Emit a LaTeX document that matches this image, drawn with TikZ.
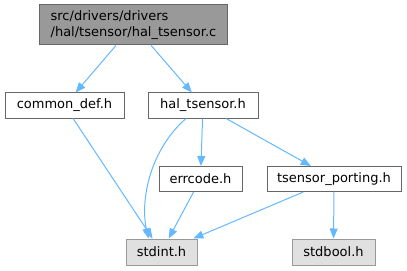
\documentclass[tikz,border=0pt]{standalone}
\usepackage{fontspec}
\setmainfont{DejaVu Sans}
\usepackage{tikz}
\usetikzlibrary{arrows.meta, positioning, calc}
\definecolor{dxedge}{HTML}{63B8FF}
\definecolor{dxborder}{HTML}{666666}
\definecolor{dxtop}{HTML}{999999}
\definecolor{dxsys}{HTML}{E0E0E0}

\begin{document}
\begin{tikzpicture}[x=0.75pt, y=-0.75pt,
  file/.style={rectangle, draw=dxborder, fill=white, line width=0.75pt, inner sep=0pt, minimum height=18.75pt, font=\fontsize{9.75}{11.5}\selectfont},
  topfile/.style={file, fill=dxtop, minimum height=30pt, align=left},
  sysfile/.style={file, draw=dxtop, fill=dxsys, minimum height=19.5pt},
  arr/.style={-{Stealth[length=7.5pt, width=6pt, inset=0pt]}, draw=dxedge, line width=0.75pt}
]
\useasboundingbox (0,0) rectangle (407,271);
\node[topfile, minimum width=141pt] (top) at (133.5,25) {src/drivers/drivers\\/hal/tsensor/hal\_tsensor.c};
\node[file, minimum width=89.25pt] (common) at (64.5,105.5) {common\_def.h};
\node[file, minimum width=82.5pt] (haltsh) at (203,105.5) {hal\_tsensor.h};
\node[file, minimum width=62.25pt] (errcode) at (200.5,179) {errcode.h};
\node[file, minimum width=100.5pt] (porting) at (334,179) {tsensor\_porting.h};
\node[sysfile, minimum width=53.25pt] (stdint) at (161.5,252) {stdint.h};
\node[sysfile, minimum width=62.25pt] (stdbool) at (333.5,252) {stdbool.h};
\draw[arr] (top) -- (common);
\draw[arr] (top) -- (haltsh);
\draw[arr] (common) -- (stdint);
\draw[arr] ($(haltsh.south)+(-17,0)$) .. controls (150,150) and (140,200) .. ($(stdint.north)+(-13,0)$);
\draw[arr] (haltsh) -- (errcode);
\draw[arr] (haltsh) -- (porting);
\draw[arr] (errcode) -- (stdint);
\draw[arr] (porting) -- (stdint);
\draw[arr] (porting) -- (stdbool);
\end{tikzpicture}
\end{document}
